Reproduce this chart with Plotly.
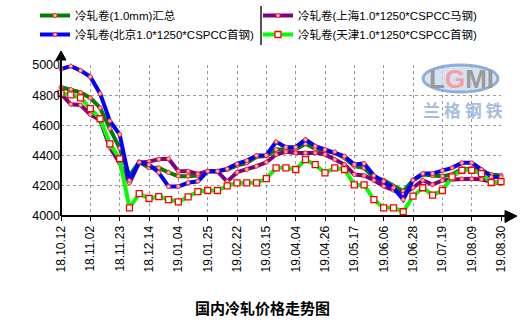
import plotly.graph_objects as go

# Weekly quote dates (every third one is labelled on the axis)
dates = [
    "18.10.12", "18.10.19", "18.10.26", "18.11.02", "18.11.09", "18.11.16",
    "18.11.23", "18.11.30", "18.12.07", "18.12.14", "18.12.21", "18.12.28",
    "19.01.04", "19.01.11", "19.01.18", "19.01.25", "19.02.01", "19.02.15",
    "19.02.22", "19.03.01", "19.03.08", "19.03.15", "19.03.22", "19.03.29",
    "19.04.04", "19.04.12", "19.04.19", "19.04.26", "19.05.05", "19.05.10",
    "19.05.17", "19.05.24", "19.05.31", "19.06.06", "19.06.14", "19.06.21",
    "19.06.28", "19.07.05", "19.07.12", "19.07.19", "19.07.26", "19.08.02",
    "19.08.09", "19.08.16", "19.08.23", "19.08.30",
]
tick_dates = dates[::3]
y_ticks = [4000, 4200, 4400, 4600, 4800, 5000]

# Prices, yuan/ton
total = [
    4853, 4838, 4818, 4782, 4716, 4579, 4448, 4265, 4358, 4320, 4319, 4288,
    4264, 4264, 4268, 4297, 4297, 4308, 4334, 4352, 4392, 4397, 4440, 4440,
    4440, 4478, 4445, 4429, 4418, 4385, 4330, 4319, 4253, 4237, 4197, 4164,
    4237, 4275, 4268, 4264, 4275, 4312, 4312, 4297, 4275, 4268,
]
shanghai = [
    4809, 4740, 4735, 4672, 4636, 4455, 4350, 4218, 4355, 4360, 4376, 4379,
    4297, 4297, 4278, 4297, 4295, 4228, 4290, 4308, 4330, 4356, 4407, 4425,
    4418, 4418, 4418, 4408, 4374, 4341, 4275, 4268, 4237, 4197, 4171, 4142,
    4187, 4237, 4208, 4235, 4242, 4246, 4246, 4242, 4230, 4215,
]
beijing = [
    4973, 4993, 4963, 4922, 4810, 4630, 4540, 4235, 4356, 4340, 4288, 4195,
    4195, 4220, 4230, 4297, 4297, 4312, 4345, 4367, 4400, 4402, 4491, 4456,
    4456, 4506, 4462, 4440, 4425, 4396, 4341, 4348, 4268, 4230, 4187, 4109,
    4237, 4281, 4281, 4301, 4319, 4352, 4352, 4308, 4259, 4259,
]
tianjin = [
    4812, 4802, 4782, 4711, 4644, 4478, 4379, 4054, 4148, 4116, 4128, 4109,
    4094, 4127, 4162, 4169, 4169, 4200, 4220, 4220, 4220, 4247, 4319, 4319,
    4308, 4373, 4340, 4286, 4319, 4308, 4206, 4206, 4109, 4054, 4054, 4028,
    4131, 4187, 4138, 4169, 4259, 4303, 4303, 4281, 4222, 4227,
]

circle_marker = dict(symbol="circle", size=4, color="#ffb3b3",
                     line=dict(color="#ff2a2a", width=1))
square_marker = dict(symbol="square", size=6, color="white",
                     line=dict(color="#ff0000", width=1.3))

series = [
    ("冷轧卷(1.0mm)汇总", total, "#008000", circle_marker, "legend"),
    ("冷轧卷(上海1.0*1250*CSPCC马钢)", shanghai, "#800080", circle_marker, "legend2"),
    ("冷轧卷(北京1.0*1250*CSPCC首钢)", beijing, "#0000ff", circle_marker, "legend"),
    ("冷轧卷(天津1.0*1250*CSPCC首钢)", tianjin, "#00ff00", square_marker, "legend2"),
]

fig = go.Figure()
for name, vals, color, marker, leg in series:
    fig.add_trace(go.Scatter(
        x=dates, y=vals, name=name, mode="lines+markers",
        line=dict(color=color, width=4), marker=marker,
        legend=leg, cliponaxis=False,
    ))

# Plot area in pixels: x 61..501, y 65..216
L, R, T, B = 61, 21, 65, 106
W, H = 522, 322
pw, ph = W - L - R, H - T - B


def px(x):
    return (x - L) / pw


def py(y):
    return 1 + (T - y) / ph


shapes = [
    # axis lines with arrow heads
    dict(type="line", xref="paper", yref="paper", x0=0, x1=px(507), y0=0, y1=0,
         line=dict(color="black", width=2), layer="above"),
    dict(type="line", xref="paper", yref="paper", x0=0, x1=0, y0=0, y1=py(59),
         line=dict(color="black", width=2), layer="above"),
    dict(type="path", xref="paper", yref="paper",
         path=f"M {px(505)} {py(210.5)} L {px(517)} 0 L {px(505)} {py(222.5)} Z",
         fillcolor="black", line=dict(color="black", width=1), layer="above"),
    dict(type="path", xref="paper", yref="paper",
         path=f"M {px(56)} {py(60)} L 0 {py(51)} L {px(66)} {py(60)} Z",
         fillcolor="black", line=dict(color="black", width=1), layer="above"),
    # divider between the two legend columns
    dict(type="line", xref="paper", yref="paper", x0=px(261), x1=px(261),
         y0=py(6), y1=py(45), line=dict(color="#555555", width=2)),
    # logo badge
    dict(type="circle", xref="paper", yref="paper", x0=px(423), x1=px(498),
         y0=py(92), y1=py(65), fillcolor="rgba(200,216,238,0.75)",
         line=dict(color="rgba(120,156,210,0.8)", width=3), layer="above"),
]

annotations = [
    dict(text="<b>国内冷轧价格走势图</b>", xref="paper", yref="paper", x=px(262), y=py(307),
         showarrow=False, font=dict(family="Noto Sans CJK SC", size=15, color="black"),
         xanchor="center", yanchor="middle"),
    dict(text="<b>L<span style='color:#f3a0a0'>G</span>MI</b>", xref="paper", yref="paper",
         x=px(461), y=py(79), showarrow=False, xanchor="center", yanchor="middle",
         font=dict(family="Liberation Sans", size=26, color="#9a9a9a")),
    dict(text="<b>兰 格 钢 铁</b>", xref="paper", yref="paper", x=px(463), y=py(109),
         showarrow=False, xanchor="center", yanchor="middle",
         font=dict(family="Noto Sans CJK SC", size=17, color="#a6bedd")),
]

legend_common = dict(xanchor="left", yanchor="top", orientation="v",
                     bgcolor="rgba(0,0,0,0)", borderwidth=0, itemwidth=30,
                     font=dict(size=11.5, color="black",
                               family="Liberation Sans, Noto Sans CJK SC"))

fig.update_layout(
    width=W, height=H,
    margin=dict(l=L, r=R, t=T, b=B, autoexpand=False),
    paper_bgcolor="white", plot_bgcolor="white",
    font=dict(family="Liberation Sans, Noto Sans CJK SC", size=12, color="black"),
    showlegend=True,
    legend=dict(x=px(35), y=py(1), **legend_common),
    legend2=dict(x=px(258), y=py(1), **legend_common),
    xaxis=dict(
        type="category", categoryorder="array", categoryarray=dates,
        range=[0, len(dates) - 1], tickmode="array", tickvals=tick_dates,
        tickangle=-90, ticks="outside", ticklen=4, tickwidth=1, tickcolor="black",
        showgrid=True, gridcolor="#999999", griddash="dot", gridwidth=1,
        showline=False, zeroline=False, tickfont=dict(size=12),
    ),
    yaxis=dict(
        range=[4000, 5000], tickmode="array", tickvals=y_ticks, ticks="",
        showgrid=True, gridcolor="#999999", griddash="dot", gridwidth=1,
        showline=False, zeroline=False, tickfont=dict(size=12.5),
    ),
    shapes=shapes,
    annotations=annotations,
)

fig.write_html("out.html")
